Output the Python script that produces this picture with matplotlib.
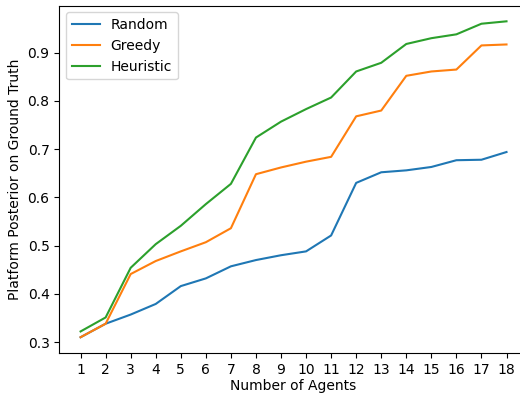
import matplotlib
matplotlib.use("Agg")
import matplotlib.pyplot as plt

# values
agents = list(range(1, 19))
random_vals = [0.310, 0.338, 0.357, 0.379, 0.416, 0.432, 0.457, 0.470, 0.480,
               0.488, 0.521, 0.630, 0.652, 0.656, 0.663, 0.677, 0.678, 0.694]
greedy_vals = [0.310, 0.338, 0.441, 0.468, 0.488, 0.507, 0.536, 0.648, 0.662,
               0.674, 0.684, 0.768, 0.780, 0.852, 0.861, 0.865, 0.915, 0.917]
heuristic_vals = [0.322, 0.351, 0.454, 0.503, 0.541, 0.586, 0.628, 0.724, 0.757,
                  0.783, 0.807, 0.861, 0.879, 0.918, 0.930, 0.938, 0.960, 0.965]

fig, ax = plt.subplots(figsize=(5.2, 3.94), dpi=100)
fig.subplots_adjust(left=0.114, right=1.015, top=0.986, bottom=0.104)

ax.plot(agents, random_vals, label="Random")
ax.plot(agents, greedy_vals, label="Greedy")
ax.plot(agents, heuristic_vals, label="Heuristic")

ax.set_xticks(agents)
ax.set_xlabel("Number of Agents", labelpad=1.5)
ax.set_ylabel("Platform Posterior on Ground Truth")
ax.legend(loc="upper left")

fig.savefig("out.png")
